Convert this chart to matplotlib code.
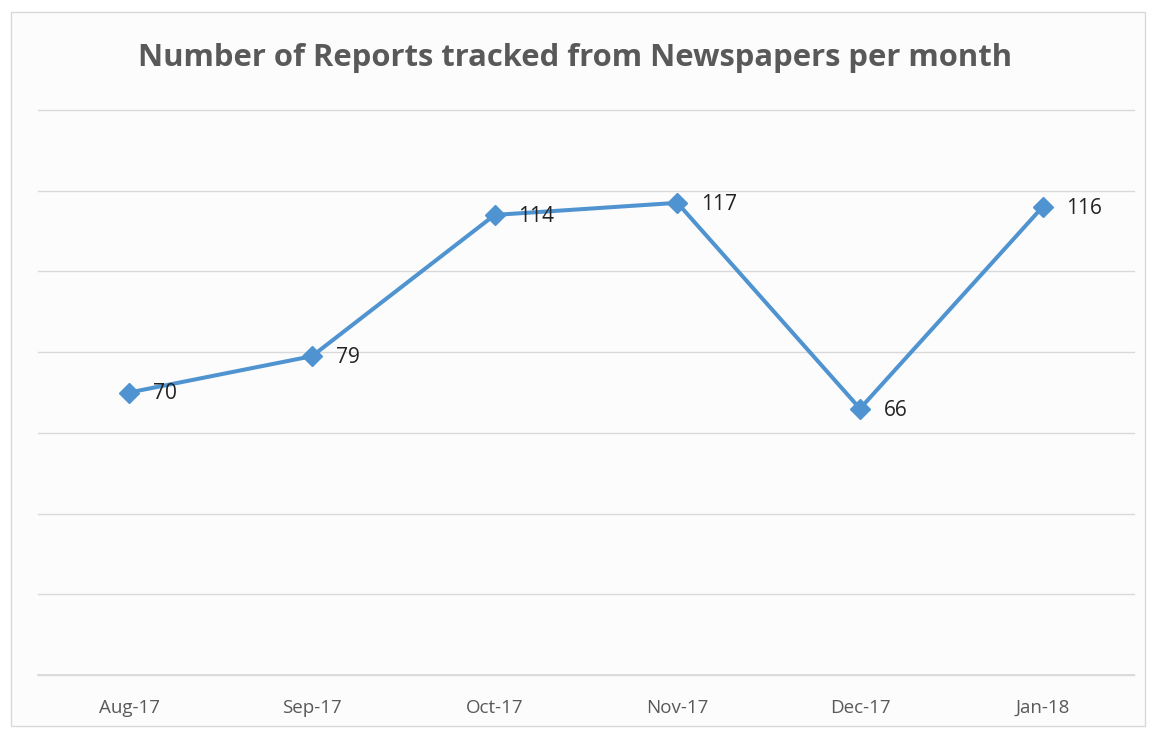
import matplotlib.pyplot as plt
from matplotlib.patches import Rectangle

months = ['Aug-17', 'Sep-17', 'Oct-17', 'Nov-17', 'Dec-17', 'Jan-18']
reports = [70, 79, 114, 117, 66, 116]

W, H = 1151, 729
fig = plt.figure(figsize=(W / 100, H / 100), dpi=100)
fig.patch.set_facecolor('white')

# chart area frame, like the Excel chart border
fig.patches.append(Rectangle((11 / W, 1 - 726 / H), 1134 / W, 714 / H,
                             transform=fig.transFigure, facecolor='#fcfcfc',
                             edgecolor='#d9d9d9', linewidth=1.0, zorder=-5))

ax = fig.add_axes([38 / W, 1 - 675 / H, 1096 / W, 565 / H])
ax.set_facecolor('none')
ax.set_zorder(2)

x = list(range(len(months)))
ax.plot(x, reports, color='#4f94d0', linewidth=2.9, marker='D', markersize=10,
        zorder=3)
for xi, v in zip(x, reports):
    ax.annotate(str(v), (xi, v), xytext=(17, -1), textcoords='offset points',
                ha='left', va='center', fontsize=15, color='#222222',
                family='Open Sans')

ax.set_xlim(-0.5, len(months) - 0.5)
ax.set_ylim(0, 140)
ax.set_yticks(range(0, 141, 20))
ax.yaxis.grid(True, color='#d9d9d9', linewidth=1.0, clip_on=False)
ax.axhline(0, color='#d9d9d9', linewidth=1.2, clip_on=False, zorder=1)
ax.set_axisbelow(True)
ax.tick_params(axis='y', left=False, labelleft=False)
ax.tick_params(axis='x', length=0, pad=17, labelsize=13.5, labelcolor='#595959')
ax.set_xticks(x)
ax.set_xticklabels(months, family='Open Sans')
for s in ax.spines.values():
    s.set_visible(False)

fig.text(0.5, 1 - 58 / H, 'Number of Reports tracked from Newspapers per month',
         ha='center', va='center', fontsize=22.3, fontweight='bold',
         color='#595959', family='Open Sans', zorder=3)

fig.savefig('out.png', dpi=100)
